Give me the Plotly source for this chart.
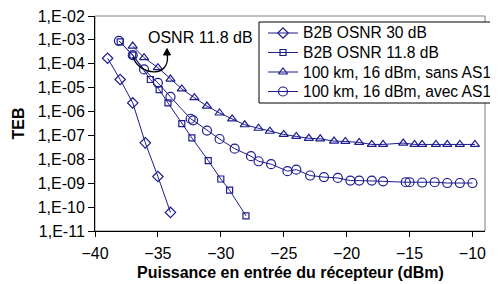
import plotly.graph_objects as go

# ---- data ----
x_b2b30 = [-39, -38, -37, -36, -35, -34]
y_b2b30 = [1.7e-4, 2.2e-5, 2.3e-6, 4.9e-8, 1.9e-9, 6.0e-11]

x_b2b118 = [-38, -37, -35.6, -34.9, -34.2, -33.1, -32.3, -31, -30, -29.3, -28]
y_b2b118 = [8.3e-4, 2.3e-4, 2.2e-5, 8.3e-6, 2.3e-6, 3.1e-7, 7.9e-8, 8.9e-9, 1.5e-9, 5.1e-10, 4.3e-11]

x_sans = [-37, -36.1, -35, -34, -33.1, -32.1, -31.1, -30.1, -29.1, -28.1, -27, -26.1, -25, -24,
          -23, -22.1, -21, -20.1, -19, -18, -17.1, -15.5, -14.6, -14, -12.9, -12, -11, -9.8]
y_sans = [5.5e-4, 1.8e-4, 6.9e-5, 2.3e-5, 8.9e-6, 3.8e-6, 1.7e-6, 8.7e-7, 4.9e-7, 2.8e-7, 2.0e-7, 1.5e-7,
          1.1e-7, 9.1e-8, 7.6e-8, 7.2e-8, 5.8e-8, 5.6e-8, 5.1e-8, 4.2e-8, 4.2e-8, 4.8e-8, 4.2e-8, 4.2e-8,
          4.2e-8, 4.2e-8, 4.2e-8, 4.2e-8]

x_avec = [-38.1, -37, -36.1, -35, -34, -32.4, -32.2, -31.1, -30.1, -28.9, -27.6, -27, -26, -24.7, -24,
          -22.9, -21.8, -20.7, -19.7, -19, -18, -17.1, -15.3, -15.0, -14, -13, -12, -11, -10]
y_avec = [9.1e-4, 2.3e-4, 5.8e-5, 1.6e-5, 4.1e-6, 5.0e-7, 4.3e-7, 1.6e-7, 7.1e-8, 2.8e-8, 1.35e-8, 8.3e-9,
          6.3e-9, 3.2e-9, 3.7e-9, 2.1e-9, 1.8e-9, 1.66e-9, 1.29e-9, 1.29e-9, 1.29e-9, 1.2e-9, 1.1e-9, 1.1e-9,
          1.07e-9, 1.1e-9, 1.02e-9, 1.02e-9, 1.02e-9]

series_names = ["B2B OSNR 30 dB", "B2B OSNR 11.8 dB", "100 km, 16 dBm, sans AS1", "100 km, 16 dBm, avec AS1"]

y_tick_vals = [1e-2, 1e-3, 1e-4, 1e-5, 1e-6, 1e-7, 1e-8, 1e-9, 1e-10, 1e-11]
y_tick_text = ["1,E-02", "1,E-03", "1,E-04", "1,E-05", "1,E-06", "1,E-07", "1,E-08", "1,E-09", "1,E-10", "1,E-11"]
x_tick_vals = [-40, -35, -30, -25, -20, -15, -10]

COL = "#1c1c8e"
FONT = "Liberation Sans, Arial, sans-serif"

# page body has an 8px margin: the figure starts at (8, 8) in the window
OFF = 8
W, H = 498 - OFF, 284 - OFF
L, R, T, B = 95 - OFF, 13, 16 - OFF, 53
pw, ph = W - L - R, H - T - B

def px(x):
    # absolute window pixel -> paper fraction
    return (x - OFF - L) / pw

def py(y):
    return 1 - (y - OFF - T) / ph

fig = go.Figure()
specs = [
    (x_b2b30, y_b2b30, "diamond-open", 8),
    (x_b2b118, y_b2b118, "square-open", 6),
    (x_sans, y_sans, "triangle-up-open", 8),
    (x_avec, y_avec, "circle-open", 9),
]
for (xs, ys, sym, sz), name in zip(specs, series_names):
    fig.add_trace(go.Scatter(
        x=xs, y=ys, mode="lines+markers", name=name, showlegend=False,
        line=dict(color=COL, width=1),
        marker=dict(symbol=sym, size=sz, color=COL, line=dict(color=COL, width=1.2)),
    ))

# ---- legend (drawn on an overlay axis spanning the plot area in paper units) ----
leg_rows = [33, 52.5, 72, 91.5]
leg_x0, leg_x1, leg_xm, leg_tx = 268, 298, 283, 301
annotations = []
for (xs, ys, sym, sz), name, ry in zip(specs, series_names, leg_rows):
    fig.add_trace(go.Scatter(
        x=[px(leg_x0), px(leg_x1)], y=[py(ry), py(ry)], xaxis="x2", yaxis="y2",
        mode="lines", line=dict(color=COL, width=1), showlegend=False, hoverinfo="skip"))
    fig.add_trace(go.Scatter(
        x=[px(leg_xm)], y=[py(ry)], xaxis="x2", yaxis="y2", mode="markers",
        marker=dict(symbol=sym, size=sz, color=COL, line=dict(color=COL, width=1.2)),
        showlegend=False, hoverinfo="skip"))
    annotations.append(dict(text=name, xref="paper", yref="paper", x=px(leg_tx), y=py(ry),
                            xanchor="left", yanchor="middle", showarrow=False,
                            font=dict(size=15.6)))

arrow_path = "M {},{} C {},{} {},{} {},{}".format(
    px(133), py(57), px(140), py(77), px(172), py(78), px(167), py(53))
head_path = "M {},{} L {},{} L {},{} Z".format(
    px(167), py(48.5), px(163.5), py(55), px(170.5), py(55))

annotations += [
    dict(text="OSNR 11.8 dB", xref="paper", yref="paper", x=px(200), y=py(37),
         showarrow=False, font=dict(size=16), xanchor="center", yanchor="middle"),
    dict(text="<b>TEB</b>", xref="paper", yref="paper", x=px(18), y=0.5, textangle=-90,
         showarrow=False, font=dict(size=16), xanchor="center", yanchor="middle"),
    dict(text="<b>Puissance en entrée du récepteur (dBm)</b>", xref="paper", yref="paper",
         x=px(290), y=py(272.5), showarrow=False, font=dict(size=16),
         xanchor="center", yanchor="middle"),
]

fig.update_layout(
    width=W, height=H,
    margin=dict(l=L, r=R, t=T, b=B, autoexpand=False),
    paper_bgcolor="white", plot_bgcolor="white",
    font=dict(family=FONT, size=16, color="black"),
    showlegend=False,
    xaxis=dict(range=[-40, -9], tickvals=x_tick_vals, showgrid=False, zeroline=False,
               showline=True, linecolor="black", linewidth=1, ticks="outside",
               ticklen=5, tickcolor="black", tickfont=dict(size=16), ticklabelstandoff=3,
               ticklabeloverflow="allow"),
    yaxis=dict(type="log", range=[-11, -2], tickvals=y_tick_vals, ticktext=y_tick_text,
               showgrid=False, zeroline=False, showline=True, linecolor="black", linewidth=1,
               ticks="outside", ticklen=6, tickcolor="black", tickfont=dict(size=16),
               ticklabeloverflow="allow"),
    xaxis2=dict(range=[0, 1], overlaying="x", visible=False, anchor="y2"),
    yaxis2=dict(range=[0, 1], overlaying="y", visible=False, anchor="x2"),
    shapes=[
        dict(type="rect", xref="paper", yref="paper", x0=0, y0=0, x1=1, y1=1,
             line=dict(color="#808080", width=1), layer="below"),
        dict(type="rect", xref="paper", yref="paper", x0=px(259), y0=py(103), x1=px(505), y1=py(22),
             line=dict(color="black", width=1), fillcolor="white", layer="below"),
        dict(type="path", xref="paper", yref="paper", path=arrow_path,
             line=dict(color="black", width=1.3)),
        dict(type="path", xref="paper", yref="paper", path=head_path,
             line=dict(color="black", width=1), fillcolor="black"),
    ],
    annotations=annotations,
)

fig.write_html("out.html")
